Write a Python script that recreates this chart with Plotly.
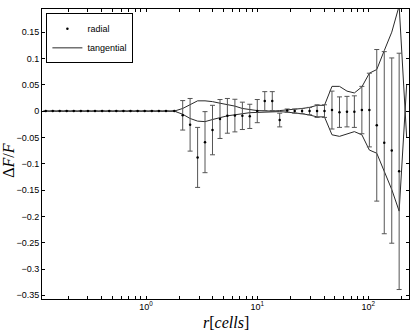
import plotly.graph_objects as go

# bin radius in cells (log spaced)
r = [0.1253, 0.1449, 0.1674, 0.1935, 0.2238, 0.2593, 0.3002, 0.3478, 0.4029, 0.4668,
     0.5407, 0.6263, 0.7255, 0.8403, 0.9734, 1.128, 1.306, 1.513, 1.797, 2.138,
     2.492, 2.911, 3.394, 3.963, 4.629, 5.395, 6.303, 7.360, 8.580, 10.02,
     11.70, 13.67, 15.94, 18.61, 21.74, 25.34, 29.60, 34.57, 40.29, 47.07,
     54.97, 64.22, 74.83, 87.41, 102.1, 119.0, 139.0, 162.3, 189.2, 221.0]

radial = [0, 0, 0, 0, 0, 0, 0, 0, 0, 0,
          0, 0, 0, 0, 0, 0, 0, 0, 0, -0.008,
          -0.026, -0.088, -0.059, -0.036, -0.015, -0.009, -0.0085, -0.009, -0.010, 0.0,
          0.019, 0.019, -0.017, 0.001, 0.0, 0.0, 0.0, 0.0, 0.0, 0.002,
          -0.002, -0.001, -0.001, 0.002, 0.002, -0.027, -0.060, -0.075, -0.1145, None]

radial_err = [0.0005] * 19 + [
    0.028, 0.050, 0.057, 0.058, 0.047, 0.037, 0.033, 0.031, 0.026, 0.023,
    0.022, 0.018, 0.018, 0.013, 0.003, 0.004, 0.005, 0.007, 0.012, 0.012,
    0.036, 0.029, 0.029, 0.030, 0.045, 0.070, 0.144, 0.173, 0.176, 0.2245, None]

tang_hi = [0] * 19 + [
    0.005, 0.013, 0.0195, 0.0195, 0.018, 0.015, 0.0125, 0.0095, 0.005, 0.003,
    0.001, 0.0005, 0.0, 0.001, 0.002, 0.003, 0.005, 0.007, 0.011, 0.011,
    0.047, 0.047, 0.038, 0.0345, 0.046, 0.072, 0.079, 0.115, 0.150, 0.200, -0.05]

tang_lo = [0] * 19 + [
    -0.006, -0.014, -0.019, -0.020, -0.016, -0.012, -0.009, -0.007, -0.0045, -0.003,
    -0.0025, -0.002, -0.001, -0.001, -0.002, -0.003, -0.005, -0.0075, -0.011, -0.011,
    -0.045, -0.048, -0.043, -0.039, -0.045, -0.074, -0.080, -0.115, -0.149, -0.190, 0.05]

x_tickvals = [1, 10, 100]
x_ticktext = ["10<sup>0</sup>", "10<sup>1</sup>", "10<sup>2</sup>"]
x_minorvals = [0.2, 0.3, 0.4, 0.5, 0.6, 0.7, 0.8, 0.9, 2, 3, 4, 5, 6, 7, 8, 9,
               20, 30, 40, 50, 60, 70, 80, 90, 200]

fig = go.Figure()

fig.add_trace(go.Scatter(
    x=r, y=tang_hi, mode="lines", name="tangential",
    line=dict(color="#2a2a2a", width=1)))
fig.add_trace(go.Scatter(
    x=r, y=tang_lo, mode="lines", showlegend=False,
    line=dict(color="#2a2a2a", width=1)))
fig.add_trace(go.Scatter(
    x=r, y=radial, mode="markers", name="radial",
    marker=dict(color="black", size=2.5),
    error_y=dict(type="data", array=radial_err, color="#555555",
                 thickness=1, width=2.5)))

fig.update_layout(
    width=415, height=331,
    margin=dict(l=42, r=6, t=9, b=32, autoexpand=False),
    paper_bgcolor="white", plot_bgcolor="white",
    font=dict(family="Liberation Sans, Arial", size=9, color="black"),
    legend=dict(x=0.012, y=0.985, xanchor="left", yanchor="top",
                bgcolor="white", bordercolor="black", borderwidth=1,
                font=dict(size=9), traceorder="reversed",
                itemwidth=30, tracegroupgap=0),
    annotations=[
        dict(text="\u0394<i>F</i>/<i>F</i>", xref="paper", yref="paper",
             x=-0.09, y=0.48, xanchor="center", yanchor="middle",
             textangle=-90, showarrow=False,
             font=dict(family="Liberation Serif", size=16)),
        dict(text="<i>r</i>[<i>cells</i>]", xref="paper", yref="paper",
             x=0.5, y=-0.08, xanchor="center", yanchor="middle",
             showarrow=False,
             font=dict(family="Liberation Serif", size=16)),
    ],
)

fig.update_xaxes(
    type="log", range=[-0.9355, 2.3655], automargin=False,
    tickmode="array", tickvals=x_tickvals, ticktext=x_ticktext,
    ticks="inside", ticklen=3, tickcolor="black", ticklabelstandoff=-1,
    minor=dict(tickmode="array", tickvals=x_minorvals, ticks="inside",
               ticklen=3, tickcolor="black", showgrid=False),
    showline=True, linecolor="black", linewidth=1, mirror="ticks",
    showgrid=False, zeroline=False)

fig.update_yaxes(
    range=[-0.357, 0.194], tick0=0, dtick=0.05, automargin=False,
    ticks="inside", ticklen=3, tickcolor="black",
    showline=True, linecolor="black", linewidth=1, mirror="ticks",
    showgrid=False, zeroline=False)

# page body has a default 8px margin, drop it so the figure fills the window
fig.write_html("out.html", config={"displayModeBar": False},
               post_script="document.body.style.margin='0';")
